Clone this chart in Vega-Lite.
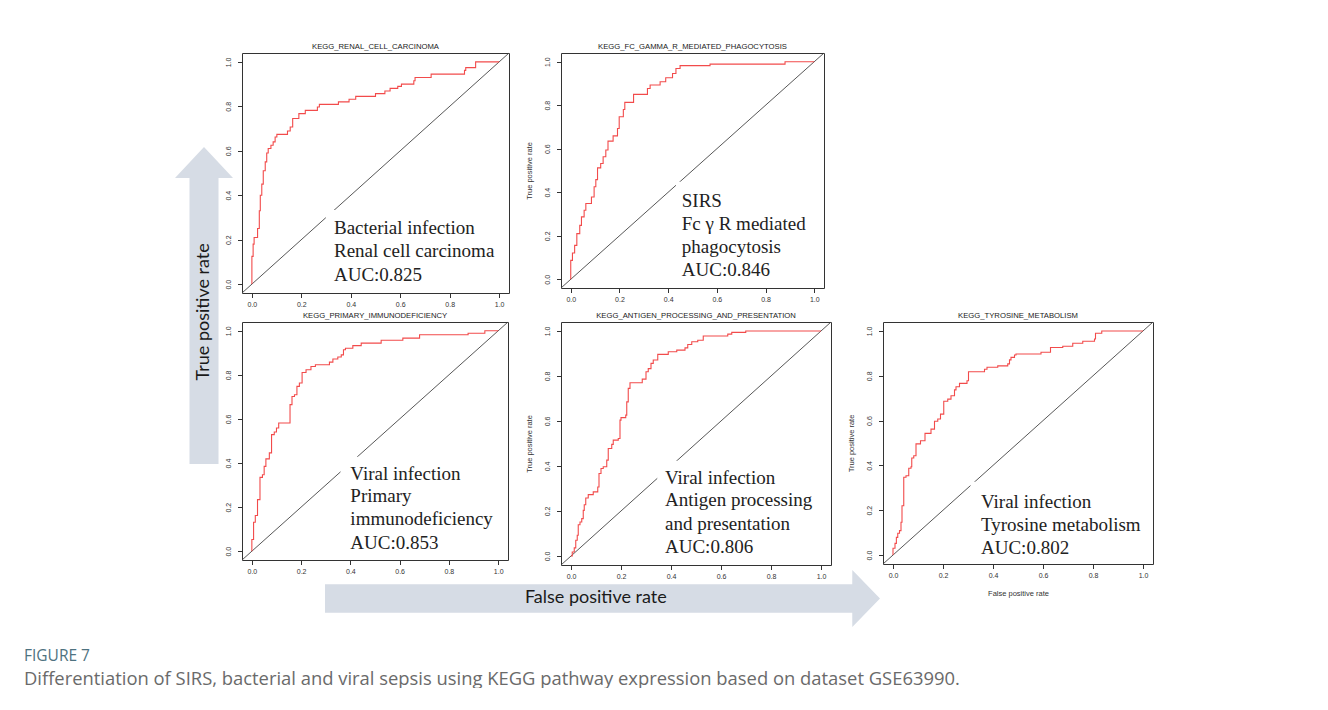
{
  "$schema": "https://vega.github.io/schema/vega-lite/v6.json",
  "background": "white",
  "padding": {"left": 24, "top": 42, "right": 0, "bottom": 0},
  "title": {
    "text": "FIGURE 7",
    "subtitle": "Differentiation of SIRS, bacterial and viral sepsis using KEGG pathway expression based on dataset GSE63990.",
    "orient": "bottom",
    "anchor": "start",
    "frame": "group",
    "dx": -151,
    "offset": 22,
    "font": "Open Sans",
    "fontSize": 15.5,
    "fontWeight": "normal",
    "color": "#4e7280",
    "subtitleFont": "Open Sans",
    "subtitleFontSize": 18.4,
    "subtitleColor": "#6a6a6a",
    "subtitlePadding": 5
  },
  "columns": 7,
  "bounds": "flush",
  "align": "each",
  "spacing": 0,
  "datasets": {
    "diag": [{"fpr": -0.04, "tpr": -0.04}, {"fpr": 1.04, "tpr": 1.04}],
    "roc1": [
      {"fpr":0,"tpr":0},{"fpr":0,"tpr":0.125},{"fpr":0.005,"tpr":0.18},{"fpr":0.009,"tpr":0.21},{"fpr":0.023,"tpr":0.25},{"fpr":0.03,"tpr":0.33},{"fpr":0.034,"tpr":0.4},{"fpr":0.04,"tpr":0.45},{"fpr":0.046,"tpr":0.51},{"fpr":0.054,"tpr":0.55},{"fpr":0.06,"tpr":0.59},{"fpr":0.066,"tpr":0.61},{"fpr":0.077,"tpr":0.625},{"fpr":0.086,"tpr":0.64},{"fpr":0.094,"tpr":0.662},{"fpr":0.101,"tpr":0.674},{"fpr":0.144,"tpr":0.689},{"fpr":0.155,"tpr":0.707},{"fpr":0.165,"tpr":0.745},{"fpr":0.19,"tpr":0.767},{"fpr":0.216,"tpr":0.782},{"fpr":0.265,"tpr":0.797},{"fpr":0.273,"tpr":0.809},{"fpr":0.35,"tpr":0.82},{"fpr":0.393,"tpr":0.832},{"fpr":0.42,"tpr":0.845},{"fpr":0.5,"tpr":0.857},{"fpr":0.538,"tpr":0.869},{"fpr":0.559,"tpr":0.881},{"fpr":0.59,"tpr":0.89},{"fpr":0.605,"tpr":0.9},{"fpr":0.655,"tpr":0.915},{"fpr":0.66,"tpr":0.93},{"fpr":0.725,"tpr":0.945},{"fpr":0.86,"tpr":0.962},{"fpr":0.865,"tpr":0.974},{"fpr":0.905,"tpr":1.0},{"fpr":1,"tpr":1}
    ],
    "roc2": [
      {"fpr":0,"tpr":0},{"fpr":0,"tpr":0.087},{"fpr":0.007,"tpr":0.121},{"fpr":0.016,"tpr":0.156},{"fpr":0.025,"tpr":0.21},{"fpr":0.037,"tpr":0.248},{"fpr":0.044,"tpr":0.287},{"fpr":0.055,"tpr":0.317},{"fpr":0.062,"tpr":0.348},{"fpr":0.085,"tpr":0.378},{"fpr":0.096,"tpr":0.425},{"fpr":0.103,"tpr":0.458},{"fpr":0.11,"tpr":0.512},{"fpr":0.123,"tpr":0.532},{"fpr":0.133,"tpr":0.563},{"fpr":0.144,"tpr":0.594},{"fpr":0.153,"tpr":0.635},{"fpr":0.174,"tpr":0.659},{"fpr":0.192,"tpr":0.693},{"fpr":0.199,"tpr":0.747},{"fpr":0.216,"tpr":0.78},{"fpr":0.222,"tpr":0.813},{"fpr":0.258,"tpr":0.85},{"fpr":0.315,"tpr":0.877},{"fpr":0.326,"tpr":0.893},{"fpr":0.367,"tpr":0.908},{"fpr":0.39,"tpr":0.926},{"fpr":0.418,"tpr":0.946},{"fpr":0.432,"tpr":0.969},{"fpr":0.449,"tpr":0.982},{"fpr":0.572,"tpr":0.989},{"fpr":0.88,"tpr":1.0},{"fpr":1,"tpr":1}
    ],
    "roc3": [
      {"fpr":0,"tpr":0},{"fpr":0,"tpr":0.053},{"fpr":0.007,"tpr":0.131},{"fpr":0.014,"tpr":0.162},{"fpr":0.023,"tpr":0.234},{"fpr":0.033,"tpr":0.335},{"fpr":0.043,"tpr":0.347},{"fpr":0.05,"tpr":0.385},{"fpr":0.057,"tpr":0.419},{"fpr":0.071,"tpr":0.446},{"fpr":0.08,"tpr":0.529},{"fpr":0.091,"tpr":0.541},{"fpr":0.1,"tpr":0.559},{"fpr":0.109,"tpr":0.582},{"fpr":0.155,"tpr":0.665},{"fpr":0.163,"tpr":0.702},{"fpr":0.173,"tpr":0.71},{"fpr":0.183,"tpr":0.748},{"fpr":0.193,"tpr":0.763},{"fpr":0.204,"tpr":0.811},{"fpr":0.22,"tpr":0.823},{"fpr":0.24,"tpr":0.838},{"fpr":0.258,"tpr":0.846},{"fpr":0.315,"tpr":0.858},{"fpr":0.329,"tpr":0.872},{"fpr":0.349,"tpr":0.881},{"fpr":0.363,"tpr":0.891},{"fpr":0.372,"tpr":0.914},{"fpr":0.38,"tpr":0.921},{"fpr":0.41,"tpr":0.933},{"fpr":0.444,"tpr":0.944},{"fpr":0.525,"tpr":0.957},{"fpr":0.613,"tpr":0.967},{"fpr":0.681,"tpr":0.982},{"fpr":0.878,"tpr":0.989},{"fpr":0.946,"tpr":1.0},{"fpr":1,"tpr":1}
    ],
    "roc4": [
      {"fpr":0,"tpr":0},{"fpr":0.005,"tpr":0.018},{"fpr":0.013,"tpr":0.036},{"fpr":0.019,"tpr":0.07},{"fpr":0.025,"tpr":0.092},{"fpr":0.029,"tpr":0.139},{"fpr":0.036,"tpr":0.151},{"fpr":0.043,"tpr":0.166},{"fpr":0.049,"tpr":0.203},{"fpr":0.053,"tpr":0.228},{"fpr":0.059,"tpr":0.258},{"fpr":0.069,"tpr":0.273},{"fpr":0.089,"tpr":0.285},{"fpr":0.107,"tpr":0.307},{"fpr":0.112,"tpr":0.367},{"fpr":0.12,"tpr":0.389},{"fpr":0.129,"tpr":0.397},{"fpr":0.143,"tpr":0.426},{"fpr":0.149,"tpr":0.478},{"fpr":0.163,"tpr":0.496},{"fpr":0.169,"tpr":0.515},{"fpr":0.189,"tpr":0.522},{"fpr":0.196,"tpr":0.604},{"fpr":0.2,"tpr":0.615},{"fpr":0.219,"tpr":0.626},{"fpr":0.223,"tpr":0.685},{"fpr":0.229,"tpr":0.745},{"fpr":0.236,"tpr":0.77},{"fpr":0.285,"tpr":0.786},{"fpr":0.3,"tpr":0.819},{"fpr":0.309,"tpr":0.833},{"fpr":0.32,"tpr":0.856},{"fpr":0.329,"tpr":0.871},{"fpr":0.347,"tpr":0.896},{"fpr":0.389,"tpr":0.908},{"fpr":0.423,"tpr":0.915},{"fpr":0.456,"tpr":0.925},{"fpr":0.467,"tpr":0.94},{"fpr":0.483,"tpr":0.952},{"fpr":0.507,"tpr":0.959},{"fpr":0.529,"tpr":0.978},{"fpr":0.627,"tpr":0.986},{"fpr":0.643,"tpr":0.994},{"fpr":0.699,"tpr":1.0},{"fpr":1,"tpr":1}
    ],
    "roc5": [
      {"fpr":0,"tpr":0},{"fpr":0,"tpr":0.03},{"fpr":0.008,"tpr":0.052},{"fpr":0.0135,"tpr":0.079},{"fpr":0.019,"tpr":0.097},{"fpr":0.026,"tpr":0.109},{"fpr":0.032,"tpr":0.146},{"fpr":0.036,"tpr":0.22},{"fpr":0.043,"tpr":0.347},{"fpr":0.052,"tpr":0.354},{"fpr":0.063,"tpr":0.387},{"fpr":0.072,"tpr":0.394},{"fpr":0.075,"tpr":0.433},{"fpr":0.083,"tpr":0.443},{"fpr":0.092,"tpr":0.496},{"fpr":0.11,"tpr":0.51},{"fpr":0.128,"tpr":0.543},{"fpr":0.152,"tpr":0.562},{"fpr":0.166,"tpr":0.597},{"fpr":0.179,"tpr":0.607},{"fpr":0.19,"tpr":0.629},{"fpr":0.203,"tpr":0.686},{"fpr":0.219,"tpr":0.696},{"fpr":0.232,"tpr":0.711},{"fpr":0.246,"tpr":0.737},{"fpr":0.252,"tpr":0.751},{"fpr":0.266,"tpr":0.766},{"fpr":0.296,"tpr":0.778},{"fpr":0.302,"tpr":0.818},{"fpr":0.366,"tpr":0.829},{"fpr":0.376,"tpr":0.838},{"fpr":0.419,"tpr":0.844},{"fpr":0.459,"tpr":0.853},{"fpr":0.466,"tpr":0.871},{"fpr":0.472,"tpr":0.882},{"fpr":0.486,"tpr":0.893},{"fpr":0.492,"tpr":0.897},{"fpr":0.592,"tpr":0.905},{"fpr":0.63,"tpr":0.926},{"fpr":0.679,"tpr":0.932},{"fpr":0.719,"tpr":0.945},{"fpr":0.759,"tpr":0.954},{"fpr":0.806,"tpr":0.964},{"fpr":0.81,"tpr":0.99},{"fpr":0.835,"tpr":1.0},{"fpr":1,"tpr":1}
    ],
    "arrowUp": [
      {"along": 0, "lo": -0.5, "hi": 0.5},
      {"along": 0.902, "lo": -0.5, "hi": 0.5},
      {"along": 0.9021, "lo": -1, "hi": 1},
      {"along": 1, "lo": 0, "hi": 0}
    ],
    "arrowRight": [
      {"along": 0, "lo": -0.5, "hi": 0.5},
      {"along": 0.95, "lo": -0.5, "hi": 0.5},
      {"along": 0.9501, "lo": -1, "hi": 1},
      {"along": 1, "lo": 0, "hi": 0}
    ],
    "blank": [{}]
  },
  "concat": [
    {
      "width": 58, "height": 269, "view": {"stroke": null},
      "data": {"name": "arrowUp"},
      "mark": {"type": "area", "orient": "horizontal", "color": "#d6dce5", "clip": true},
      "encoding": {
        "y": {"field": "along", "type": "quantitative", "scale": {"domain": [0.44795, 1.29653], "nice": false, "zero": false}, "axis": null},
        "x": {"field": "lo", "type": "quantitative", "scale": {"domain": [-1, 1], "nice": false, "zero": false}, "axis": null},
        "x2": {"field": "hi"}
      }
    },
    {"width": 9, "height": 1, "data": {"name": "blank"}, "mark": {"type": "point", "opacity": 0}, "view": {"stroke": null}},
    {
      "width": 267, "height": 240,
      "title": {"text": "KEGG_RENAL_CELL_CARCINOMA"},
      "encoding": {
        "x": {"field": "fpr", "type": "quantitative", "scale": {"domain": [-0.04, 1.04], "nice": false, "zero": false}, "axis": {"values": [0, 0.2, 0.4, 0.6, 0.8, 1], "format": ".1f", "title": null}},
        "y": {"field": "tpr", "type": "quantitative", "scale": {"domain": [-0.04, 1.04], "nice": false, "zero": false}, "axis": {"values": [0, 0.2, 0.4, 0.6, 0.8, 1], "format": ".1f", "title": null}}
      },
      "layer": [
        {"data": {"name": "diag"}, "mark": {"type": "line", "color": "#444", "strokeWidth": 0.9}, "encoding": {}},
        {"data": {"values": [{"fpr": 0.299, "fpr2": 1.0, "tpr": 0.333, "tpr2": -0.02}]}, "mark": {"type": "rect", "color": "white"}, "encoding": {"x2": {"field": "fpr2"}, "y2": {"field": "tpr2"}}},
        {"data": {"name": "roc1"}, "mark": {"type": "line", "interpolate": "step-after", "color": "#f24b4b", "strokeWidth": 1.1}, "encoding": {"order": {"value": null}}},
        {"data": {"values": [
          {"fpr": 0.332, "tpr": 0.224, "label": "Bacterial infection"},
          {"fpr": 0.332, "tpr": 0.12, "label": "Renal cell carcinoma"},
          {"fpr": 0.332, "tpr": 0.0135, "label": "AUC:0.825"}]},
         "mark": {"type": "text", "font": "Liberation Serif", "fontSize": 19, "align": "left", "baseline": "alphabetic", "color": "#222"},
         "encoding": {"text": {"field": "label"}}}
      ]
    },
    {"width": 52, "height": 1, "data": {"name": "blank"}, "mark": {"type": "point", "opacity": 0}, "view": {"stroke": null}},
    {
      "width": 263, "height": 235,
      "title": {"text": "KEGG_FC_GAMMA_R_MEDIATED_PHAGOCYTOSIS"},
      "encoding": {
        "x": {"field": "fpr", "type": "quantitative", "scale": {"domain": [-0.04, 1.04], "nice": false, "zero": false}, "axis": {"values": [0, 0.2, 0.4, 0.6, 0.8, 1], "format": ".1f", "title": null}},
        "y": {"field": "tpr", "type": "quantitative", "scale": {"domain": [-0.04, 1.04], "nice": false, "zero": false}, "axis": {"values": [0, 0.2, 0.4, 0.6, 0.8, 1], "format": ".1f", "title": "True positive rate"}}
      },
      "layer": [
        {"data": {"name": "diag"}, "mark": {"type": "line", "color": "#444", "strokeWidth": 0.9}, "encoding": {}},
        {"data": {"values": [{"fpr": 0.432, "fpr2": 1.0, "tpr": 0.448, "tpr2": -0.02}]}, "mark": {"type": "rect", "color": "white"}, "encoding": {"x2": {"field": "fpr2"}, "y2": {"field": "tpr2"}}},
        {"data": {"name": "roc2"}, "mark": {"type": "line", "interpolate": "step-after", "color": "#f24b4b", "strokeWidth": 1.1}, "encoding": {"order": {"value": null}}},
        {"data": {"values": [
          {"fpr": 0.456, "tpr": 0.333, "label": "SIRS"},
          {"fpr": 0.456, "tpr": 0.227, "label": "Fc γ R mediated"},
          {"fpr": 0.456, "tpr": 0.121, "label": "phagocytosis"},
          {"fpr": 0.456, "tpr": 0.014, "label": "AUC:0.846"}]},
         "mark": {"type": "text", "font": "Liberation Serif", "fontSize": 19, "align": "left", "baseline": "alphabetic", "color": "#222"},
         "encoding": {"text": {"field": "label"}}}
      ]
    },
    {"width": 52, "height": 1, "data": {"name": "blank"}, "mark": {"type": "point", "opacity": 0}, "view": {"stroke": null}},
    {"width": 270, "height": 1, "data": {"name": "blank"}, "mark": {"type": "point", "opacity": 0}, "view": {"stroke": null}},

    {
      "width": 58, "height": 243, "view": {"stroke": null},
      "layer": [
        {
          "data": {"name": "arrowUp"},
          "mark": {"type": "area", "orient": "horizontal", "color": "#d6dce5", "clip": true},
          "encoding": {
            "y": {"field": "along", "type": "quantitative", "scale": {"domain": [-0.31861, 0.44795], "nice": false, "zero": false}, "axis": null},
            "x": {"field": "lo", "type": "quantitative", "scale": {"domain": [-1, 1], "nice": false, "zero": false}, "axis": null},
            "x2": {"field": "hi"}
          }
        },
        {
          "data": {"values": [{"along": 0.48, "lo": 0, "t": "True positive rate"}]},
          "mark": {"type": "text", "angle": 270, "font": "Lato", "fontSize": 18, "color": "#1a1a1a", "align": "center", "baseline": "middle"},
          "encoding": {
            "y": {"field": "along", "type": "quantitative"},
            "x": {"field": "lo", "type": "quantitative"},
            "text": {"field": "t"}
          }
        }
      ]
    },
    {"width": 9, "height": 1, "data": {"name": "blank"}, "mark": {"type": "point", "opacity": 0}, "view": {"stroke": null}},
    {
      "width": 266, "height": 238,
      "title": {"text": "KEGG_PRIMARY_IMMUNODEFICIENCY"},
      "encoding": {
        "x": {"field": "fpr", "type": "quantitative", "scale": {"domain": [-0.04, 1.04], "nice": false, "zero": false}, "axis": {"values": [0, 0.2, 0.4, 0.6, 0.8, 1], "format": ".1f", "title": null}},
        "y": {"field": "tpr", "type": "quantitative", "scale": {"domain": [-0.04, 1.04], "nice": false, "zero": false}, "axis": {"values": [0, 0.2, 0.4, 0.6, 0.8, 1], "format": ".1f", "title": null}}
      },
      "layer": [
        {"data": {"name": "diag"}, "mark": {"type": "line", "color": "#444", "strokeWidth": 0.9}, "encoding": {}},
        {"data": {"values": [{"fpr": 0.36, "fpr2": 1.0, "tpr": 0.429, "tpr2": -0.02}]}, "mark": {"type": "rect", "color": "white"}, "encoding": {"x2": {"field": "fpr2"}, "y2": {"field": "tpr2"}}},
        {"data": {"name": "roc3"}, "mark": {"type": "line", "interpolate": "step-after", "color": "#f24b4b", "strokeWidth": 1.1}, "encoding": {"order": {"value": null}}},
        {"data": {"values": [
          {"fpr": 0.4, "tpr": 0.325, "label": "Viral infection"},
          {"fpr": 0.4, "tpr": 0.222, "label": "Primary"},
          {"fpr": 0.4, "tpr": 0.118, "label": "immunodeficiency"},
          {"fpr": 0.4, "tpr": 0.012, "label": "AUC:0.853"}]},
         "mark": {"type": "text", "font": "Liberation Serif", "fontSize": 19, "align": "left", "baseline": "alphabetic", "color": "#222"},
         "encoding": {"text": {"field": "label"}}}
      ]
    },
    {"width": 52, "height": 1, "data": {"name": "blank"}, "mark": {"type": "point", "opacity": 0}, "view": {"stroke": null}},
    {
      "width": 270, "height": 243,
      "title": {"text": "KEGG_ANTIGEN_PROCESSING_AND_PRESENTATION"},
      "encoding": {
        "x": {"field": "fpr", "type": "quantitative", "scale": {"domain": [-0.04, 1.04], "nice": false, "zero": false}, "axis": {"values": [0, 0.2, 0.4, 0.6, 0.8, 1], "format": ".1f", "title": null}},
        "y": {"field": "tpr", "type": "quantitative", "scale": {"domain": [-0.04, 1.04], "nice": false, "zero": false}, "axis": {"values": [0, 0.2, 0.4, 0.6, 0.8, 1], "format": ".1f", "title": "True positive rate"}}
      },
      "layer": [
        {"data": {"name": "diag"}, "mark": {"type": "line", "color": "#444", "strokeWidth": 0.9}, "encoding": {}},
        {"data": {"values": [{"fpr": 0.345, "fpr2": 1.0, "tpr": 0.423, "tpr2": -0.02}]}, "mark": {"type": "rect", "color": "white"}, "encoding": {"x2": {"field": "fpr2"}, "y2": {"field": "tpr2"}}},
        {"data": {"name": "roc4"}, "mark": {"type": "line", "interpolate": "step-after", "color": "#f24b4b", "strokeWidth": 1.1}, "encoding": {"order": {"value": null}}},
        {"data": {"values": [
          {"fpr": 0.376, "tpr": 0.322, "label": "Viral infection"},
          {"fpr": 0.376, "tpr": 0.221, "label": "Antigen processing"},
          {"fpr": 0.376, "tpr": 0.117, "label": "and presentation"},
          {"fpr": 0.376, "tpr": 0.013, "label": "AUC:0.806"}]},
         "mark": {"type": "text", "font": "Liberation Serif", "fontSize": 19, "align": "left", "baseline": "alphabetic", "color": "#222"},
         "encoding": {"text": {"field": "label"}}}
      ]
    },
    {"width": 52, "height": 1, "data": {"name": "blank"}, "mark": {"type": "point", "opacity": 0}, "view": {"stroke": null}},
    {
      "width": 270, "height": 242,
      "title": {"text": "KEGG_TYROSINE_METABOLISM"},
      "encoding": {
        "x": {"field": "fpr", "type": "quantitative", "scale": {"domain": [-0.04, 1.04], "nice": false, "zero": false}, "axis": {"values": [0, 0.2, 0.4, 0.6, 0.8, 1], "format": ".1f", "title": "False positive rate"}},
        "y": {"field": "tpr", "type": "quantitative", "scale": {"domain": [-0.04, 1.04], "nice": false, "zero": false}, "axis": {"values": [0, 0.2, 0.4, 0.6, 0.8, 1], "format": ".1f", "title": "True positive rate"}}
      },
      "layer": [
        {"data": {"name": "diag"}, "mark": {"type": "line", "color": "#444", "strokeWidth": 0.9}, "encoding": {}},
        {"data": {"values": [{"fpr": 0.31, "fpr2": 1.0, "tpr": 0.327, "tpr2": -0.02}]}, "mark": {"type": "rect", "color": "white"}, "encoding": {"x2": {"field": "fpr2"}, "y2": {"field": "tpr2"}}},
        {"data": {"name": "roc5"}, "mark": {"type": "line", "interpolate": "step-after", "color": "#f24b4b", "strokeWidth": 1.1}, "encoding": {"order": {"value": null}}},
        {"data": {"values": [
          {"fpr": 0.352, "tpr": 0.208, "label": "Viral infection"},
          {"fpr": 0.352, "tpr": 0.106, "label": "Tyrosine metabolism"},
          {"fpr": 0.352, "tpr": 0.004, "label": "AUC:0.802"}]},
         "mark": {"type": "text", "font": "Liberation Serif", "fontSize": 19, "align": "left", "baseline": "alphabetic", "color": "#222"},
         "encoding": {"text": {"field": "label"}}}
      ]
    },

    {"width": 58, "height": 1, "data": {"name": "blank"}, "mark": {"type": "point", "opacity": 0}, "view": {"stroke": null}},
    {"width": 9, "height": 1, "data": {"name": "blank"}, "mark": {"type": "point", "opacity": 0}, "view": {"stroke": null}},
    {
      "width": 267, "height": 62, "view": {"stroke": null},
      "data": {"name": "arrowRight"},
      "mark": {"type": "area", "orient": "vertical", "color": "#d6dce5", "clip": true},
      "encoding": {
        "x": {"field": "along", "type": "quantitative", "scale": {"domain": [-0.14955, 0.33153], "nice": false, "zero": false}, "axis": null},
        "y": {"field": "lo", "type": "quantitative", "scale": {"domain": [-1, 1.1754], "nice": false, "zero": false}, "axis": null},
        "y2": {"field": "hi"}
      }
    },
    {
      "width": 52, "height": 62, "view": {"stroke": null},
      "data": {"name": "arrowRight"},
      "mark": {"type": "area", "orient": "vertical", "color": "#d6dce5", "clip": true},
      "encoding": {
        "x": {"field": "along", "type": "quantitative", "scale": {"domain": [0.33153, 0.42523], "nice": false, "zero": false}, "axis": null},
        "y": {"field": "lo", "type": "quantitative", "scale": {"domain": [-1, 1.1754], "nice": false, "zero": false}, "axis": null},
        "y2": {"field": "hi"}
      }
    },
    {
      "width": 270, "height": 62, "view": {"stroke": null},
      "layer": [
        {
          "data": {"name": "arrowRight"},
          "mark": {"type": "area", "orient": "vertical", "color": "#d6dce5", "clip": true},
          "encoding": {
            "x": {"field": "along", "type": "quantitative", "scale": {"domain": [0.42523, 0.91171], "nice": false, "zero": false}, "axis": null},
            "y": {"field": "lo", "type": "quantitative", "scale": {"domain": [-1, 1.1754], "nice": false, "zero": false}, "axis": null},
            "y2": {"field": "hi"}
          }
        },
        {
          "data": {"values": [{"along": 0.488, "lo": 0, "t": "False positive rate"}]},
          "mark": {"type": "text", "font": "Lato", "fontSize": 18, "color": "#1a1a1a", "align": "center", "baseline": "middle"},
          "encoding": {
            "x": {"field": "along", "type": "quantitative"},
            "y": {"field": "lo", "type": "quantitative"},
            "text": {"field": "t"}
          }
        }
      ]
    },
    {
      "width": 52, "height": 62, "view": {"stroke": null},
      "data": {"name": "arrowRight"},
      "mark": {"type": "area", "orient": "vertical", "color": "#d6dce5", "clip": true},
      "encoding": {
        "x": {"field": "along", "type": "quantitative", "scale": {"domain": [0.91171, 1.00541], "nice": false, "zero": false}, "axis": null},
        "y": {"field": "lo", "type": "quantitative", "scale": {"domain": [-1, 1.1754], "nice": false, "zero": false}, "axis": null},
        "y2": {"field": "hi"}
      }
    },
    {"width": 270, "height": 1, "data": {"name": "blank"}, "mark": {"type": "point", "opacity": 0}, "view": {"stroke": null}}
  ],
  "config": {
    "view": {"stroke": "#333", "strokeWidth": 1},
    "title": {"font": "Liberation Sans", "fontSize": 7.7, "fontWeight": "normal", "color": "#222", "offset": 1, "anchor": "middle"},
    "axis": {
      "grid": false,
      "domain": false,
      "ticks": true,
      "tickColor": "#333",
      "tickSize": 4.5,
      "tickWidth": 1,
      "labelFont": "Liberation Sans",
      "labelFontSize": 7,
      "labelColor": "#333",
      "labelFlush": false,
      "labelOverlap": false,
      "titleFont": "Liberation Sans",
      "titleFontSize": 7.5,
      "titleFontWeight": "normal",
      "titleColor": "#333"
    },
    "axisX": {"labelPadding": 3, "titlePadding": 11},
    "axisY": {"labelAngle": 270, "labelAlign": "center", "labelBaseline": "alphabetic", "labelPadding": 7, "titlePadding": 10}
  }
}
